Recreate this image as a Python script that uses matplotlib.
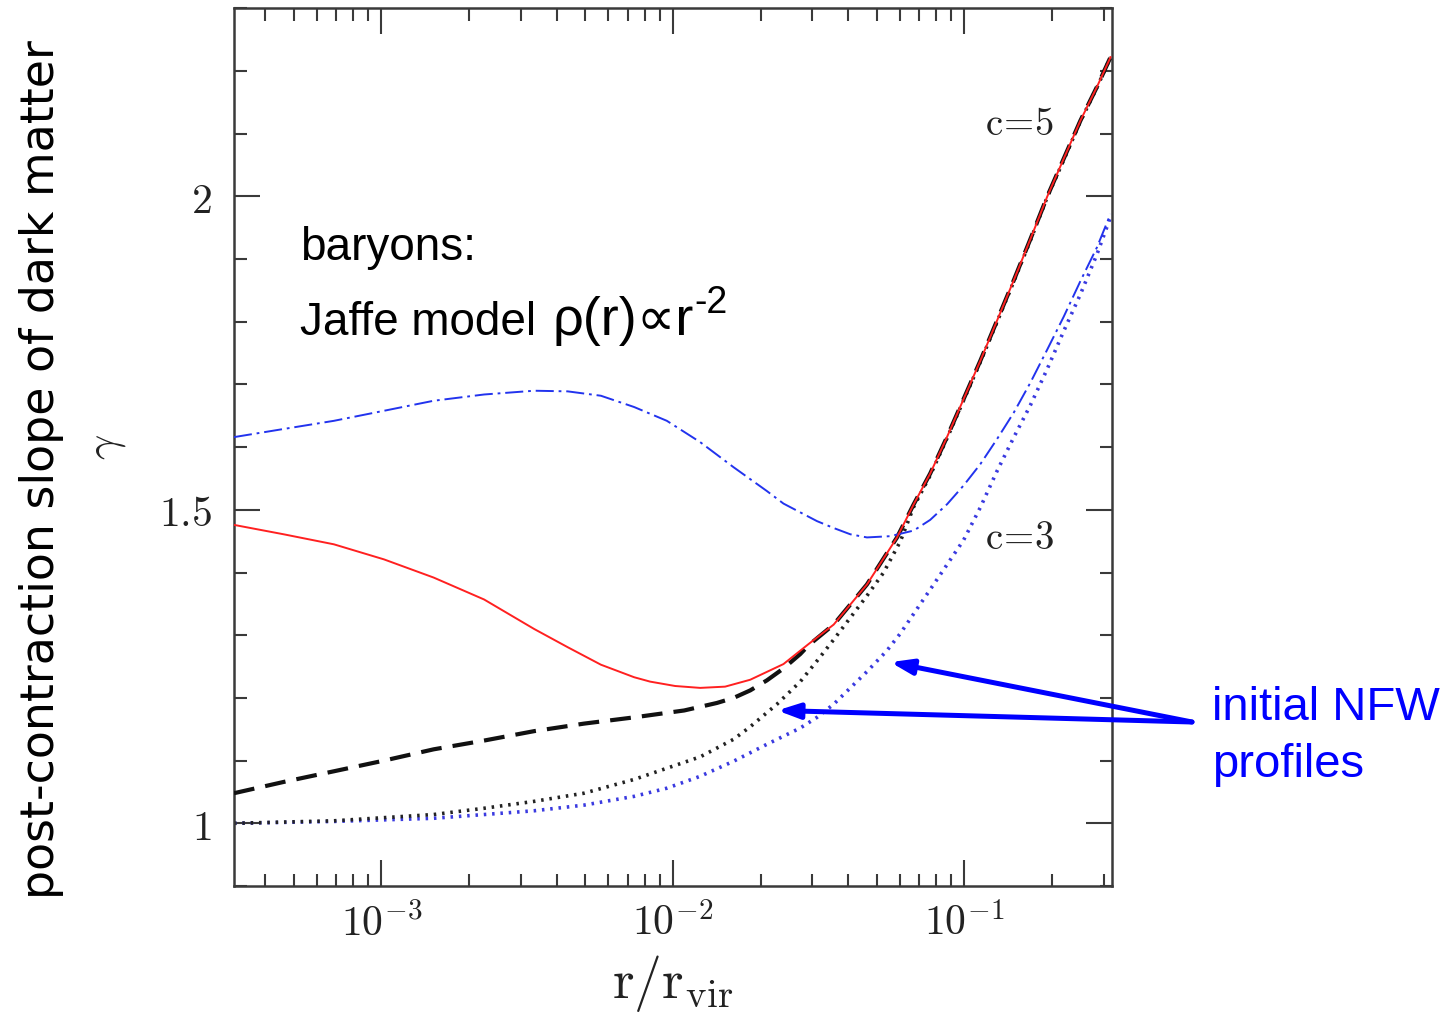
import numpy as np
import matplotlib
matplotlib.use("Agg")
import matplotlib.pyplot as plt
from matplotlib.ticker import LogLocator, MultipleLocator, FixedLocator, NullFormatter

plt.rcParams['mathtext.fontset'] = 'cm'
plt.rcParams['lines.scale_dashes'] = False

# ---- data ----
# contracted profile, c=3 (blue dash-dot)
r_c3 = [3.12e-4, 4.62e-4, 6.87e-4, 1.02e-3, 1.51e-3, 2.25e-3, 3.34e-3, 4.35e-3, 5.66e-3,
        7.36e-3, 9.53e-3, 0.0124, 0.01614, 0.0210, 0.02394, 0.0312, 0.0356, 0.0406,
        0.0463, 0.0557, 0.0670, 0.0763, 0.0872, 0.0994, 0.1134, 0.1294, 0.1476,
        0.1684, 0.192, 0.219, 0.250, 0.285, 0.317]
g_c3 = [1.616, 1.629, 1.642, 1.658, 1.674, 1.684, 1.690, 1.689, 1.682,
        1.664, 1.642, 1.608, 1.568, 1.530, 1.510, 1.482, 1.471, 1.461,
        1.456, 1.458, 1.467, 1.484, 1.509, 1.539, 1.573, 1.613, 1.655,
        1.703, 1.755, 1.808, 1.865, 1.919, 1.972]

# contracted profile, c=5 (red solid)
r_c5 = [3.12e-4, 4.62e-4, 6.87e-4, 1.02e-3, 1.51e-3, 2.25e-3, 3.34e-3, 4.35e-3, 5.66e-3,
        7.36e-3, 8.35e-3, 0.01018, 0.01240, 0.0151, 0.01841, 0.02394, 0.0292, 0.0356,
        0.0406, 0.0463, 0.0587, 0.0670, 0.0763, 0.0871, 0.0994, 0.1134, 0.1294,
        0.1476, 0.1684, 0.192, 0.219, 0.250, 0.285, 0.317]
g_c5 = [1.476, 1.461, 1.445, 1.421, 1.392, 1.357, 1.310, 1.281, 1.253,
        1.233, 1.226, 1.219, 1.216, 1.218, 1.229, 1.254, 1.286, 1.317,
        1.349, 1.381, 1.456, 1.509, 1.558, 1.616, 1.677, 1.738, 1.802,
        1.866, 1.932, 1.999, 2.060, 2.121, 2.175, 2.222]

# black dashed
r_dash = [3.12e-4, 4.62e-4, 6.87e-4, 1.02e-3, 1.51e-3, 2.25e-3, 3.34e-3, 4.95e-3, 7.36e-3,
          0.01093, 0.01416, 0.01614, 0.01841, 0.0210, 0.02394, 0.02734, 0.0292, 0.0356,
          0.0406, 0.0463, 0.0587, 0.0670, 0.0763, 0.0871, 0.0994, 0.1134, 0.1294,
          0.1476, 0.1684, 0.192, 0.219, 0.250, 0.285, 0.317]
g_dash = [1.048, 1.066, 1.083, 1.100, 1.118, 1.132, 1.147, 1.159, 1.169,
          1.180, 1.192, 1.200, 1.212, 1.228, 1.247, 1.270, 1.284, 1.317,
          1.349, 1.381, 1.456, 1.509, 1.558, 1.616, 1.677, 1.738, 1.802,
          1.866, 1.932, 1.999, 2.060, 2.121, 2.175, 2.222]

# initial NFW, c=5 (black dotted)
r_nfw5 = [3.12e-4, 6.87e-4, 1.51e-3, 2.25e-3, 3.34e-3, 4.95e-3, 7.36e-3, 0.0124, 0.01614,
          0.01841, 0.02274, 0.02734, 0.0312, 0.0356, 0.0406, 0.0463, 0.0528, 0.0603,
          0.0670, 0.0763, 0.0871, 0.0994, 0.1134, 0.1294, 0.1476, 0.1684, 0.192,
          0.219, 0.250, 0.285, 0.317]
g_nfw5 = [1.000, 1.004, 1.014, 1.024, 1.035, 1.048, 1.070, 1.106, 1.134,
          1.154, 1.190, 1.226, 1.259, 1.293, 1.328, 1.363, 1.400, 1.450,
          1.505, 1.555, 1.614, 1.675, 1.736, 1.800, 1.864, 1.930, 1.998,
          2.058, 2.120, 2.174, 2.222]

# initial NFW, c=3 (blue dotted)
r_nfw3 = [3.12e-4, 6.87e-4, 1.51e-3, 2.25e-3, 3.34e-3, 4.95e-3, 7.36e-3, 9.53e-3, 0.0124,
          0.01614, 0.0210, 0.02734, 0.0312, 0.0356, 0.0406, 0.0463, 0.0541, 0.0603,
          0.0784, 0.0994, 0.1134, 0.1294, 0.1476, 0.1684, 0.192, 0.219, 0.250,
          0.285, 0.317]
g_nfw3 = [1.000, 1.003, 1.008, 1.014, 1.020, 1.029, 1.043, 1.056, 1.075,
          1.099, 1.126, 1.152, 1.169, 1.190, 1.216, 1.242, 1.275, 1.303,
          1.381, 1.452, 1.504, 1.562, 1.6155, 1.667, 1.724, 1.785, 1.844,
          1.908, 1.967]

x_ticks = [1e-3, 1e-2, 1e-1]
x_ticklabels = [r'$10^{-3}$', r'$10^{-2}$', r'$10^{-1}$']
y_ticks = [1.0, 1.5, 2.0]
y_ticklabels = [r'$1$', r'$1.5$', r'$2$']

arrow_tips = [(0.0557, 1.257), (0.0228, 1.18)]

W, H = 1456, 1021
fig = plt.figure(figsize=(W / 100, H / 100), dpi=100)
ax = fig.add_axes([234 / W, 1 - 886 / H, (1111.7 - 234) / W, (886 - 8.3) / H])

ax.plot(r_nfw3, g_nfw3, color='#3a3ae0', lw=2.6, dashes=(1.8, 4.2), zorder=2)
ax.plot(r_nfw5, g_nfw5, color='#222222', lw=2.6, dashes=(1.8, 4.2), zorder=2)
ax.plot(r_dash, g_dash, color='#111111', lw=3.0, dashes=(15, 8), zorder=3)
ax.plot(r_c3, g_c3, color='#2233ee', lw=1.4, dashes=(13, 3.5, 2, 3.5), zorder=4)
ax.plot(r_c5, g_c5, color='#ff2020', lw=1.4, zorder=5)

ax.set_xscale('log')
ax.set_xlim(3.12e-4, 0.32)
ax.set_ylim(0.9, 2.3)

ax.xaxis.set_major_locator(FixedLocator(x_ticks))
ax.xaxis.set_minor_locator(LogLocator(base=10, subs=np.arange(2, 10)))
ax.xaxis.set_minor_formatter(NullFormatter())
ax.set_xticklabels(x_ticklabels)
ax.yaxis.set_major_locator(FixedLocator(y_ticks))
ax.yaxis.set_minor_locator(MultipleLocator(0.1))
ax.set_yticklabels(y_ticklabels)

spine_c = '#3a3a3a'
for s in ax.spines.values():
    s.set_linewidth(1.8)
    s.set_color(spine_c)
ax.tick_params(which='both', direction='in', top=True, right=True, color=spine_c)
ax.tick_params(which='major', length=19, width=1.5, labelsize=30, labelcolor='#222222')
ax.tick_params(which='minor', length=9, width=1.5)
ax.tick_params(axis='x', which='major', pad=12)
ax.tick_params(axis='y', which='major', pad=16)

ax.set_xlabel(r'$\mathrm{r/r_{vir}}$', fontsize=40, color='#222222', labelpad=6)
ax.set_ylabel(r'$\gamma$', fontsize=32, color='#222222', labelpad=22)

def fp(x, y):
    return (x / W, 1 - y / H)

ax.text(985, H - 135, r'$\mathrm{c\!=\!5}$', transform=None, fontsize=28, color='#222222')
ax.text(985, H - 549, r'$\mathrm{c\!=\!3}$', transform=None, fontsize=28, color='#222222')

fig.text(*fp(300, 260), 'baryons:', fontsize=33, family=['Liberation Sans', 'DejaVu Sans'])
fig.text(*fp(300, 335), 'Jaffe model', fontsize=33, family=['Liberation Sans', 'DejaVu Sans'])
fig.text(*fp(553, 335), 'ρ(r)∝r', fontsize=39, family=['Liberation Sans', 'DejaVu Sans'])
fig.text(*fp(694, 313), '-2', fontsize=27, family=['Liberation Sans', 'DejaVu Sans'])

fig.text(*fp(42, 470), 'post-contraction slope of dark matter', fontsize=33,
         rotation=90, ha='center', va='center', family=['DejaVu Sans'])

fig.text(*fp(1212, 720), 'initial NFW', fontsize=34, color='#0000ff',
         family=['Liberation Sans', 'DejaVu Sans'])
fig.text(*fp(1212, 777), 'profiles', fontsize=34, color='#0000ff',
         family=['Liberation Sans', 'DejaVu Sans'])

for tip in arrow_tips:
    ax.annotate('', xy=tip, xycoords='data', xytext=(1192, H - 722), textcoords='figure pixels',
                annotation_clip=False,
                arrowprops=dict(arrowstyle='-|>,head_length=1.3,head_width=0.45', lw=3.6,
                                color='#0000ff', shrinkA=0, shrinkB=0))

fig.savefig('out.png', dpi=100)
